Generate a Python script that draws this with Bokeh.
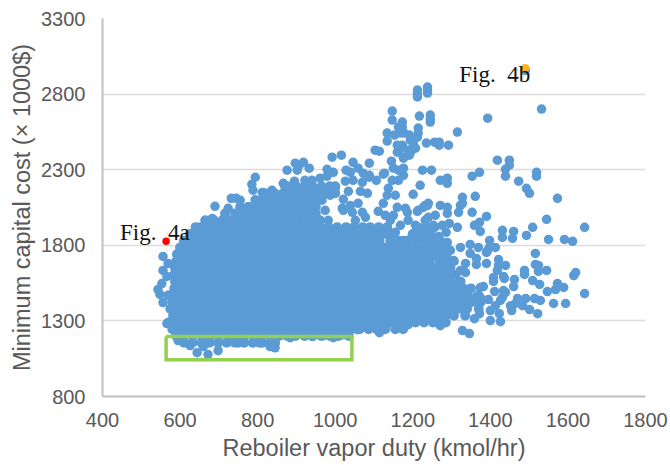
from bokeh.plotting import figure
from bokeh.embed import file_html
from bokeh.resources import INLINE
from bokeh.models import FixedTicker, Range1d
from bokeh.core.properties import value

x_ticks = [400, 600, 800, 1000, 1200, 1400, 1600, 1800]
y_ticks = [800, 1300, 1800, 2300, 2800, 3300]

# dense cloud
band_cost = [1155, 1200, 1245, 1290, 1335, 1380, 1425, 1470, 1515, 1560, 1605, 1650,
             1695, 1740, 1762, 1785, 1830, 1875, 1920, 1965, 2010, 2055, 2100, 2145, 2190]
band_duty = [
 [610,632,655,676,698,720,741,750,765,787,805,812,833,845],
 [590,612,634,657,678,700,723,744,766,789,810,832,855,876,898,921,942,964,987,1008,1035],
 [580,601,624,645,667,690,711,733,756,777,799,822,843,865,888,909,931,954,975,997,1020,1041,1063,1086,1107,1129,1155,1175],
 [570,592,613,635,658,679,701,724,745,767,790,811,833,856,877,899,922,943,965,988,1009,1031,1054,1075,1097,1120,1141,1163,1186,1207,1229,1252,1270,1285],
 [582,603,625,646,668,691,712,734,757,778,800,823,844,866,889,910,932,955,976,998,1021,1042,1064,1087,1108,1130,1153,1174,1196,1219,1240,1262,1285,1306,1335],
 [575,593,614,636,659,680,702,725,746,768,791,812,834,857,878,900,923,944,966,989,1010,1032,1055,1076,1098,1121,1142,1164,1187,1208,1230,1253,1274,1296,1319,1340,1370],
 [580,604,626,647,669,692,713,735,758,779,801,824,845,867,890,911,933,956,977,999,1022,1043,1065,1088,1109,1131,1154,1175,1197,1220,1241,1263,1286,1307,1329,1352,1375],
 [570,594,615,637,660,681,703,726,747,769,792,813,835,858,879,901,924,945,967,990,1011,1033,1056,1077,1099,1122,1143,1165,1188,1209,1231,1254,1275,1297,1320,1341,1369],
 [585,605,627,648,670,693,714,736,759,780,802,825,846,868,891,912,934,957,978,1000,1023,1044,1066,1089,1110,1132,1155,1176,1198,1221,1242,1264,1287,1308,1330,1350],
 [587,595,616,638,661,682,704,727,748,770,793,814,836,859,880,902,925,946,968,991,1012,1034,1057,1078,1100,1123,1144,1166,1189,1210,1232,1255,1276,1298,1323],
 [585,606,628,649,671,694,715,737,760,781,803,826,847,869,892,913,935,958,979,1001,1024,1045,1067,1090,1111,1133,1156,1177,1199,1222,1243,1265,1288,1310],
 [587,596,617,639,662,683,705,728,749,771,794,815,837,860,881,903,926,947,969,992,1013,1035,1058,1079,1101,1124,1145,1167,1190,1211,1233,1256,1277,1297],
 [590,607,629,650,672,695,716,738,761,782,804,827,848,870,893,914,936,959,980,1002,1025,1046,1068,1091,1112,1134,1157,1178,1200,1223,1244,1270,1288,1306],
 [592,597,618,640,663,684,706,729,750,772,795,816,838,861,882,904,927,948,970,993,1014,1036,1059,1080,1102,1125,1146,1168,1191,1207,1229,1251,1273,1287],
 [607,630,652,674,695,717,740,762,784,806,827,850,872,894,916,938,960,982,1004,1026,1048,1070,1092,1114,1136,1158,1180,1202,1224,1246,1268],
 [600,619,641,664,685,707,730,751,773,796,817,839,862,883,905,928,949,971,994,1015,1037,1060,1081,1103,1126,1147,1168,1190,1212,1234,1256,1278],
 [610,631,652,674,697,718,740,763,784,806,829,850,872,895,916,938,961,982,1004,1027,1048,1070,1093,1114,1142,1164,1186,1208,1230,1252,1271],
 [625,642,665,686,708,731,752,774,797,818,840,863,884,906,929,950,972,995,1016,1038,1061,1082,1103,1125,1147,1200,1222,1245],
 [640,653,675,698,719,741,764,785,807,830,851,873,896,917,939,962,983,1005,1028,1049,1071,1090,1112,1134,1212,1234,1256],
 [665,687,709,732,753,775,798,819,841,864,885,907,930,951,961],
 [716,742,765,786,808,831,852,874,897,918,940,950],
 [755,776,799,820,842,865,886,908,931,950],
 [794,809,832,853,875,898,919,941,948],
 [819,843,866,887,909,932,953,975,1000],
 [871,876,899,920,942,965,986,1000],
]

# individually visible points
scatter_duty = [
 556,569,556,566,543,553,556,566,579,548,
 644,672,698,660,626,595,832,845,1114,1160,1188,1271,1328,1346,
 884,941,970,995,1020,1057,
 690,724,732,745,755,788,785,794,876,897,907,918,902,933,895,922,940,
 683,812,837,866,961,
 979,992,1016,995,979,1028,1046,1039,1059,1072,1088,1088,1106,1026,1046,1070,
 1065,1083,1034,1021,1018,1039,1059,1021,1070,974,982,1044,1111,1052,1078,1000,974,987,966,
 1134,1134,1103,1114,1147,1147,1212,1212,1212,1238,1238,1238,1217,1245,1245,1245,
 1173,1173,1163,1178,1168,1153,1214,1214,1212,1191,1194,1173,1165,1160,1194,1176,1191,1207,
 1145,1176,1176,1150,1163,1176,1124,1147,1163,1137,1134,1124,1155,1160,1129,1150,1160,1201,
 1188,1127,1088,1235,1256,1268,1268,1292,1315,1393,1532,1225,1248,1271,1289,1289,1219,1201,
 1353,1372,1418,1449,1449,1439,1439,1519,1519,1473,1493,1501,1573,1361,1328,1323,1328,1353,
 1390,1372,1359,1545,1509,1643,1431,1460,1374,1493,1431,1457,1550,1591,1612,1398,1398,1516,
 1413,1393,1369,1348,1323,1421,1421,1390,1364,1364,1418,1439,1516,1524,1545,1524,1488,1488,
 1620,1615,1408,1408,1434,1436,1462,1460,1434,1509,1527,1547,1573,1568,1589,1643,1411,1431,
 1439,1470,1491,1514,1529,1563,1594,1465,1452,1483,1455,1501,1522,1423,1400,1426,1413,1426,
 1232,1240,1271,1289,1289,1318,1212,1258,1240,1232,1253,1276,1294,1286,1207,1186,1181,1219,
 1227,1258,1253,1289,1297,1348,1390,1336,1323,1336,1305,1292,1266,1318,1374,1382,1395,1374,
 1361,1400,1372,1359,
 1188,1214,1227,1238,1176,1142,1134,1168,1266,1315,1155,1199,1116,
]
scatter_cost = [
 1726,1680,1634,1594,1507,1547,1421,1282,1282,1475,
 1090,1077,1103,1130,1137,1170,1130,1122,1222,1262,1275,1268,1236,1216,
 1189,1196,1202,1189,1209,1242,
 2058,2045,2111,2111,2098,2164,2203,2250,2297,2343,2330,2349,2297,2310,2224,2230,2230,
 1978,2150,2164,2210,2244,
 2303,2383,2396,2283,2257,2297,2349,2283,2310,2277,2343,2250,2230,2224,2230,2217,
 2157,2144,2157,2104,2045,2064,2078,2031,2018,2031,1965,2018,2025,1965,1985,2177,2164,2131,2098,
 2542,2489,2429,2422,2688,2628,2827,2781,2800,2847,2827,2807,2655,2661,2635,2615,
 2615,2582,2582,2542,2542,2529,2575,2542,2515,2529,2495,2462,2429,2416,2416,2383,2396,2442,
 2356,2376,2310,2310,2297,2263,2270,2230,2230,2177,2131,2078,2131,2051,1998,1998,2462,2476,
 2429,2277,2263,2476,2482,2482,2462,2462,2549,2641,2701,2297,2297,2230,2210,2244,2197,2137,
 2257,2283,2363,2363,2330,2303,2257,2283,2257,2224,2177,2144,2111,2124,2117,2064,2078,2018,
 1991,1952,1932,1972,1919,1919,1899,1892,1892,1865,1852,1846,1839,1839,1826,1832,1786,1746,
 1786,1766,1786,1806,1786,1706,1667,1680,1713,1673,1634,1667,1673,1667,1634,1627,1634,1607,
 1620,1600,1587,1561,1594,1581,1574,1527,1501,1567,1541,1494,1547,1507,1521,1481,1494,1455,
 1488,1448,1448,1448,1435,1415,1415,1415,1401,1401,1368,1375,1348,1348,1302,1295,1401,1435,
 2064,2078,2064,2051,2011,2018,2025,1998,1985,1965,1932,1932,1945,1886,1932,2018,2045,1912,
 1846,1846,1799,1819,1766,1746,1753,1680,1634,1620,1700,1654,1720,1547,1521,1527,1441,1455,
 1455,1368,1348,1315,
 1965,2031,2051,2064,1832,1965,1899,1932,1859,1919,1886,1865,1886,
]

top_blue_duty = [1490]
top_blue_cost = [2956]
fig4a_duty = [564]
fig4a_cost = [1826]
fig4b_duty = [1490]
fig4b_cost = [2972]
box_duty = [564, 1043, 1043, 564, 564]
box_cost = [1196, 1196, 1043, 1043, 1196]
label_text = ["Fig.\u00a0\u00a04a", "Fig.\u00a0\u00a04b"]
label_duty = [445, 1320]
label_cost = [1885, 2927]

BLUE = "#5b9bd5"
GREY = "#595959"

p = figure(width=670, height=465, output_backend="svg", toolbar_location=None,
           x_range=Range1d(400, 1800), y_range=Range1d(800, 3300),
           min_border_left=102, min_border_right=25, min_border_top=18, min_border_bottom=69,
           outline_line_color=None, background_fill_color="white")

p.xgrid.visible = False
p.ygrid.ticker = FixedTicker(ticks=y_ticks)
p.ygrid.grid_line_color = "#dcdcdc"
p.ygrid.grid_line_width = 1.5

p.xaxis.ticker = FixedTicker(ticks=x_ticks)
p.yaxis.ticker = FixedTicker(ticks=y_ticks)
for ax, title, size in ((p.xaxis[0], "Reboiler vapor duty (kmol/hr)", "23.5px"),
                        (p.yaxis[0], "Minimum capital cost (\u00d7 1000$)", "23.5px")):
    ax.axis_label = title
    ax.axis_label_text_font = "Liberation Sans"
    ax.axis_label_text_font_style = "normal"
    ax.axis_label_text_font_size = size
    ax.axis_label_text_color = GREY
    ax.major_label_text_font = "Liberation Sans"
    ax.major_label_text_font_size = "20px"
    ax.major_label_text_color = GREY
    ax.axis_line_color = "#bfbfbf"
    ax.axis_line_width = 2
    ax.major_tick_line_color = None
    ax.minor_tick_line_color = None
    ax.major_tick_in = 0
    ax.major_tick_out = 0
p.xaxis[0].major_label_standoff = 16
p.yaxis[0].major_label_standoff = 17
p.xaxis[0].axis_label_standoff = 5
p.yaxis[0].axis_label_standoff = 3

band_x = [d for row in band_duty for d in row]
band_y = [c for c, row in zip(band_cost, band_duty) for _ in row]
p.scatter(band_x, band_y, size=10, fill_color=BLUE, line_color=None)
p.scatter(scatter_duty, scatter_cost, size=9.5, fill_color=BLUE, line_color=None)
p.scatter(top_blue_duty, top_blue_cost, size=9.5, fill_color=BLUE, line_color=None)
p.scatter(fig4b_duty, fig4b_cost, size=8, fill_color="#ffb01f", line_color=None)
p.scatter(fig4a_duty, fig4a_cost, size=7.5, fill_color="#ff0000", line_color=None)
p.line(box_duty, box_cost, line_color="#92d050", line_width=3.5, line_join="miter")
p.text(label_duty, label_cost, text=label_text, text_font=value("Liberation Serif"),
       text_font_size="23px", text_color="#111111", text_baseline="alphabetic", text_align="left")

open("out.html", "w").write(file_html(p, INLINE))
